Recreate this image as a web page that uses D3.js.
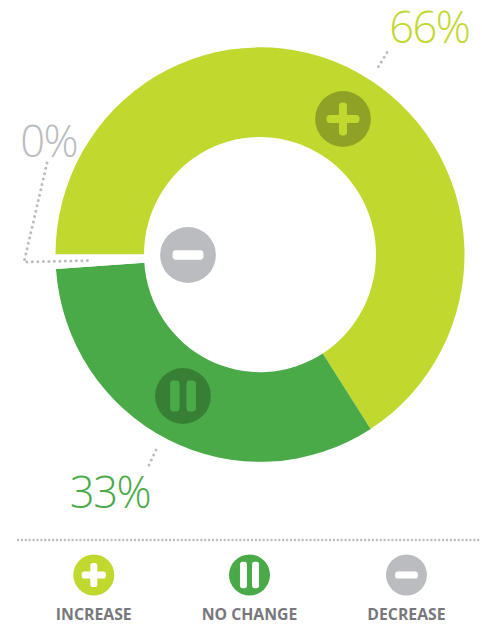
<!DOCTYPE html>
<html>
<head>
<meta charset="utf-8">
<script src="https://cdn.jsdelivr.net/npm/d3@7/dist/d3.min.js"></script>
<style>html,body{margin:0;padding:0;background:#fff}svg{display:block}text{font-family:"Open Sans",sans-serif}</style>
</head>
<body>
<script>
const categories = ["INCREASE", "NO CHANGE", "DECREASE"];
const values = [65.9, 33, 1.1];
const valueLabels = ["66%", "33%", "0%"];
const sliceColors = ["#c1d82f", "#49aa47", "#ffffff"];
const iconColors = ["#c1d82f", "#49aa47", "#bbbcbf"];
const badgeColors = ["#90a226", "#367f34", "#bbbcbf"];
const labelColors = ["#c1d82f", "#49aa47", "#bbbcbf"];
const iconKinds = ["plus", "pause", "minus"];

const W = 482, H = 625, cx = 260, cy = 254.6, R = 204.5, r = 116, yStretch = 1.0135;
const svg = d3.select("body").append("svg").attr("width", W).attr("height", H);
const g = svg.append("g").attr("transform", `translate(${cx},${cy}) scale(1,${yStretch})`);
const pie = d3.pie().sort(null).startAngle(-Math.PI / 2).endAngle(1.5 * Math.PI);
const arcGen = d3.arc().innerRadius(r).outerRadius(R);
g.selectAll("path").data(pie(values)).join("path").attr("d", arcGen).attr("fill", (d, i) => sliceColors[i]);

function icon(sel, x, y, rad, kind, bg, fg, o) {
  const k = rad / 28;
  const t = sel.append("g").attr("transform", `translate(${x},${y}) scale(${k})`);
  t.append("circle").attr("r", 28).attr("fill", bg);
  const rect = (a, b, w, h) => t.append("rect").attr("x", a).attr("y", b).attr("width", w).attr("height", h).attr("rx", 3.5).attr("fill", fg);
  if (kind === "plus") { rect(-16.5, -o.thick / 2, 33, o.thick); rect(-o.thick / 2, -16.5, o.thick, 33); }
  if (kind === "pause") { rect(-13, -o.tall / 2, 9.5, o.tall); rect(3.5, -o.tall / 2, 9.5, o.tall); }
  if (kind === "minus") { rect(-15.5, -4.7, 31, 9.4); }
}
const badgeX = [343, 183, 188], badgeY = [119, 396, 255];
iconKinds.forEach((k, i) => {
  const fg = i === 2 ? "#ffffff" : iconColors[i];
  icon(svg, badgeX[i], badgeY[i], 27.9, k, badgeColors[i], fg, {thick: 8, tall: 31});
});

const leaders = [
  [[387, 52.5], [377, 69]],
  [[156, 450], [148, 467]],
  [[47, 163], [24, 262], [88, 260.5]]
];
const line = d3.line();
svg.selectAll("path.leader").data(leaders).join("path").attr("class", "leader")
  .attr("d", line).attr("fill", "none").attr("stroke", "#bbbcbf")
  .attr("stroke-width", 3).attr("stroke-linecap", "round").attr("stroke-dasharray", "0 5.5");

const labelX = [429.3, 110, 48.7], labelY = [43, 507.5, 157];
svg.selectAll("text.val").data(valueLabels).join("text").attr("class", "val")
  .attr("x", (d, i) => labelX[i]).attr("y", (d, i) => labelY[i])
  .attr("text-anchor", "middle").attr("font-size", 43.5).attr("font-weight", 300)
  .attr("letter-spacing", -1.5)
  .attr("fill", (d, i) => labelColors[i]).text(d => d);

svg.append("line").attr("x1", 18).attr("x2", 482).attr("y1", 540).attr("y2", 540)
  .attr("stroke", "#bbbcbf").attr("stroke-width", 2.4).attr("stroke-linecap", "round").attr("stroke-dasharray", "0 3.9");

const legendX = [93.8, 249.5, 406.5];
categories.forEach((c, i) => {
  icon(svg, legendX[i], 575, 20.5, iconKinds[i], iconColors[i], "#ffffff", {thick: 9.6, tall: 36});
  svg.append("text").attr("x", legendX[i]).attr("y", 619.5).attr("text-anchor", "middle")
    .attr("font-size", 15.8).attr("font-weight", 700).attr("fill", "#77787b").text(c);
});
</script>
</body>
</html>
